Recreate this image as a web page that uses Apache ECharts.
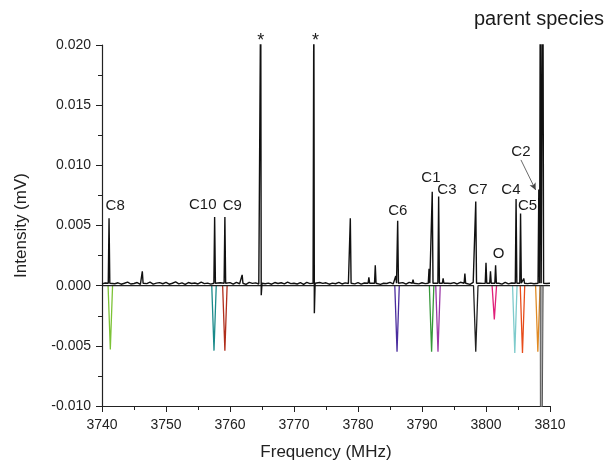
<!DOCTYPE html>
<html>
<head>
<meta charset="utf-8">
<script src="https://cdn.jsdelivr.net/npm/echarts@6/dist/echarts.min.js"></script>
<style>html,body{margin:0;padding:0;background:#fff}#c{width:607px;height:461px}</style>
</head>
<body>
<div id="c"></div>
<script>
// ---- Data ----
// Baseline noise of the measured spectrum (x1e-4 mV), every 0.5 MHz from 3740 to 3810
const NOISE_START = 3740, NOISE_STEP = 0.5;
const noise = [
 1.5,2.2,1.0,2.8,1.6,2.4,1.2,2.0,3.0,1.4,1.8,2.6,1.1,2.3,1.7,2.9,1.3,2.1,2.5,1.6,
 2.7,1.2,2.0,3.1,1.5,2.3,1.0,2.6,1.8,2.2,1.4,2.9,1.7,2.1,1.3,2.8,1.9,2.4,1.5,2.0,
 2.5,1.3,2.8,1.6,2.2,1.1,2.7,1.9,2.3,1.4,3.0,1.6,2.1,1.2,2.6,1.8,2.4,1.5,2.9,1.7,
 2.0,1.4,2.5,1.1,2.8,1.7,2.2,1.3,2.6,1.9,2.4,1.2,2.1,1.6,2.7,1.4,2.3,1.8,2.0,1.5,
 2.6,1.3,2.2,1.7,2.9,1.5,2.4,1.1,2.0,1.8,2.7,1.4,2.3,1.6,2.5,1.2,2.8,1.9,2.1,1.5,
 2.4,1.7,2.9,1.3,2.2,1.6,2.6,1.2,2.0,1.8,2.5,1.4,2.8,1.7,2.3,1.1,2.7,1.5,2.1,1.9,
 2.3,1.4,2.6,1.6,2.0,1.3,2.8,1.5,2.2,1.8,2.5,1.2,2.4,1.7,2.1,1.6,2.9,1.4,2.3,1.8,2.0
];
// Measured peaks: [frequency MHz, intensity mV]
const peaks = [
 [3741.1,0.0056],[3746.3,0.0012],[3757.6,0.0057],[3759.2,0.0057],[3761.9,0.0009],
 [3778.8,0.0056],[3781.7,0.0007],[3782.7,0.0017],[3785.9,0.0008],[3786.2,0.0054],
 [3788.6,0.0005],[3791.1,0.0014],[3791.6,0.0078],[3792.6,0.0074],[3793.3,0.0006],
 [3796.7,0.0010],[3798.4,0.0070],[3800.0,0.0019],[3800.7,0.0012],[3801.5,0.0017],
 [3804.7,0.0072],[3805.4,0.0060],[3805.9,0.0006],[3808.25,0.0080],
 [3808.5,0.03],[3808.88,0.03]
];
// Strong lines marked * : [frequency, peak, dip]
const starPeaks = [[3764.8,0.025,-0.0008],[3773.1,0.025,-0.0023]];
// Simulated (negative) lines
const simNames  = ['C8','C10','C9','C6','C1','C3','C7','O','C4','C5','C2'];
const simFreq   = [3741.3,3757.5,3759.2,3786.1,3791.5,3792.5,3798.4,3801.3,3804.5,3805.7,3808.1];
const simInt    = [-0.0053,-0.0054,-0.0054,-0.0055,-0.0055,-0.0055,-0.0055,-0.0028,-0.0056,-0.0056,-0.0055];
const simColors = ['#7cc236','#1a8a8a','#b02e1c','#4a2c9e','#36983a','#9a36a6','#222222','#e0207a','#7ecbcc','#e84c1a','#e08a24'];
// Parent species simulated line: [start, end, intensity]
const parentSim = [3808.55, 3808.85, -0.03];
// Annotations: [text, frequency, intensity]
const labels = [
 ['C8',3742.06,0.00667],['C10',3755.74,0.00671],['C9',3760.36,0.00667],
 ['C6',3786.23,0.00621],['C1',3791.39,0.00895],['C3',3793.89,0.00795],
 ['C7',3798.74,0.00795],['C4',3803.9,0.00795],['C5',3806.48,0.00662],
 ['C2',3805.46,0.01111],['O',3801.95,0.00263]
];
const starLabels = [['*',3764.81,0.0203],['*',3773.37,0.0203]];
const parentLabel = ['parent species',3808.28,0.0221];
const arrowC2 = [[3805.46,0.01045],[3807.76,0.00795]];

// ---- Build spectrum ----
const HW = 0.12;
let pts = noise.map((v,i)=>[NOISE_START+i*NOISE_STEP, v*1e-4]);
const allCenters = peaks.map(p=>p[0]).concat(starPeaks.map(p=>p[0]));
pts = pts.filter(p=>!allCenters.some(c=>Math.abs(p[0]-c)<0.3));
const base = 0.0002;
peaks.forEach(p=>{ pts.push([p[0]-HW,base],[p[0],p[1]],[p[0]+HW,base]); });
starPeaks.forEach(p=>{ pts.push([p[0]-HW,base],[p[0],p[1]],[p[0]+0.08,p[2]],[p[0]+0.2,base]); });
pts.sort((a,b)=>a[0]-b[0]);

const series = [];
simNames.forEach((n,i)=>{
  const f = simFreq[i];
  let d = [[f-0.35,0],[f,simInt[i]],[f+0.35,0]];
  if (n==='C7') d = [[3740,0]].concat(d).concat([[3810,0]]);
  series.push({type:'line', name:n, data:d, symbol:'none', z: n==='C7'?3:2,
    lineStyle:{color:simColors[i], width:1.3}, animation:false});
});
series.push({type:'line', name:'parentSim', symbol:'none', animation:false,
  data:[[parentSim[0]-0.08,0],[parentSim[0],parentSim[2]],[parentSim[1],parentSim[2]],[parentSim[1]+0.08,0]],
  lineStyle:{color:'#555', width:1}, areaStyle:{color:'#aaaaaa', opacity:1}});
series.push({type:'line', name:'spectrum', data:pts, symbol:'none', z:5, animation:false,
  lineStyle:{color:'#111', width:1.4}});
const FONT = 'Liberation Sans, Arial, sans-serif';
const lbl = {show:true, position:'inside', formatter:p=>p.name, color:'#1a1a1a', fontSize:15,
  fontFamily:FONT, textBorderWidth:0, textBorderColor:'transparent'};
series.push({type:'scatter', name:'labels', clip:false, z:10, animation:false,
  symbolSize:1, itemStyle:{color:'rgba(0,0,0,0)', opacity:1},
  data: labels.map(l=>({name:l[0], value:[l[1],l[2]]}))
    .concat(starLabels.map(l=>({name:l[0], value:[l[1],l[2]], label:{fontSize:18}})))
    .concat([{name:parentLabel[0], value:[parentLabel[1],parentLabel[2]], label:{fontSize:20}}]),
  label:lbl,
  emphasis:{disabled:true},
  markLine:{silent:true, animation:false, symbol:['none','arrow'], symbolSize:[5,7],
    label:{show:false}, lineStyle:{color:'#444', width:0.8, type:'solid', opacity:1},
    data:[[{coord:arrowC2[0]},{coord:arrowC2[1]}]]}
});

const chart = echarts.init(document.getElementById('c'), null, {renderer:'canvas'});
chart.setOption({
  backgroundColor:'#fff',
  animation:false,
  grid:{left:102, right:57, top:45, bottom:55, containLabel:false, outerBoundsMode:'none'},
  xAxis:{type:'value', min:3740, max:3810, interval:10,
    name:'Frequency (MHz)', nameLocation:'middle', nameGap:38,
    nameTextStyle:{fontSize:17, color:'#222', fontFamily:FONT},
    axisLine:{show:true, onZero:false, lineStyle:{color:'#222', width:1.2}},
    axisTick:{show:true, inside:false, length:6, lineStyle:{color:'#222'}},
    minorTick:{show:true, splitNumber:2, length:4, lineStyle:{color:'#222'}},
    axisLabel:{fontSize:14, color:'#222', margin:12, fontFamily:FONT, formatter:v=>String(v)},
    splitLine:{show:false}},
  yAxis:{type:'value', min:-0.01, max:0.02, interval:0.005,
    name:'Intensity (mV)', nameLocation:'middle', nameGap:72,
    nameTextStyle:{fontSize:17, color:'#222', fontFamily:FONT},
    axisLine:{show:true, onZero:false, lineStyle:{color:'#222', width:1.2}},
    axisTick:{show:true, inside:false, length:6, lineStyle:{color:'#222'}},
    minorTick:{show:true, splitNumber:2, length:4, lineStyle:{color:'#222'}},
    axisLabel:{fontSize:14, color:'#222', margin:11, fontFamily:FONT, formatter:v=>v.toFixed(3)},
    splitLine:{show:false}},
  series: series
});
</script>
</body>
</html>
